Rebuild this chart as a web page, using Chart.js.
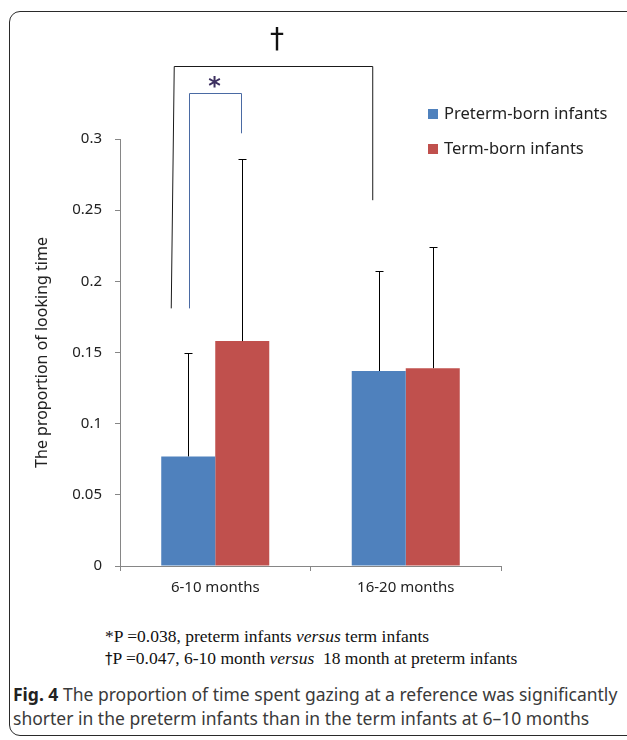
<!DOCTYPE html>
<html lang="en">
<head>
<meta charset="UTF-8">
<title>Fig. 4</title>
<style>
  body { margin: 0; background: #fff; width: 627px; height: 740px; overflow: hidden; position: relative; font-family: "Noto Sans", sans-serif; }
  #frame { position: absolute; left: 9px; top: 11px; width: 650px; height: 725px; border: 1.5px solid #2a2a2a; border-radius: 11px; box-sizing: border-box; }
  #chartBox { position: absolute; left: 0; top: 0; width: 627px; height: 620px; }
  .note { position: absolute; left: 105px; font-family: "Liberation Serif", serif; font-size: 17.5px; line-height: 20px; color: #111; white-space: nowrap; }
  .caption { position: absolute; left: 13px; font-size: 17.5px; line-height: 24px; color: #3a3a3a; white-space: nowrap; }
  .caption b { color: #222; }
</style>
</head>
<body>
  <div id="frame"></div>
  <div id="chartBox"><canvas id="myChart" width="627" height="620"></canvas></div>

  <div class="note" style="top:626px">*P =0.038, preterm infants <i>versus</i> term infants</div>
  <div class="note" style="top:648px"><span style="font-family:'DejaVu Sans';font-size:15px">†</span>P =0.047, 6-10 month <i>versus</i>&nbsp; 18 month at preterm infants</div>

  <div class="caption" style="top:682px"><b>Fig. 4</b> The proportion of time spent gazing at a reference was significantly</div>
  <div class="caption" style="top:706px">shorter in the preterm infants than in the term infants at 6–10 months</div>

  <script src="https://cdn.jsdelivr.net/npm/chart.js"></script>
  <script>
    // data
    const categories = ['6-10 months', '16-20 months'];
    const seriesNames = ['Preterm-born infants', 'Term-born infants'];
    const pretermMean = [0.077, 0.137];
    const termMean = [0.158, 0.139];
    const pretermSD = [0.073, 0.070];
    const termSD = [0.128, 0.085];
    const yTicks = [0, 0.05, 0.1, 0.15, 0.2, 0.25, 0.3];

    const colors = ['#4f81bd', '#c0504d'];

    // significance bracket levels (in axis units)
    const daggerTop = 0.351, daggerLeftEnd = 0.181, daggerRightEnd = 0.257;
    const starTop = 0.332, starLeftEnd = 0.181, starRightEnd = 0.304;

    const overlay = {
      id: 'overlay',
      afterDatasetsDraw(chart) {
        const ctx = chart.ctx;
        const y = chart.scales.y;
        const metas = [chart.getDatasetMeta(0), chart.getDatasetMeta(1)];
        const means = [pretermMean, termMean];
        const sds = [pretermSD, termSD];
        ctx.save();

        // error bars, upper side only
        ctx.strokeStyle = '#000';
        ctx.lineWidth = 1;
        metas.forEach((m, i) => m.data.forEach((bar, j) => {
          const top = Math.round(y.getPixelForValue(means[i][j] + sds[i][j])) + 0.5;
          const x = Math.round(bar.x) + 0.5;
          ctx.beginPath();
          ctx.moveTo(x, bar.y);
          ctx.lineTo(x, top);
          ctx.moveTo(x - 4, top);
          ctx.lineTo(x + 4, top);
          ctx.stroke();
        }));

        // dagger bracket (black)
        const dl = metas[0].data[0].x - 15;
        const dr = metas[0].data[1].x - 6;
        const dTop = Math.round(y.getPixelForValue(daggerTop)) + 0.5;
        ctx.strokeStyle = '#1a1a1a';
        ctx.beginPath();
        ctx.moveTo(dl - 2, y.getPixelForValue(daggerLeftEnd));
        ctx.lineTo(dl + 1, dTop);
        ctx.lineTo(dr, dTop);
        ctx.lineTo(dr, y.getPixelForValue(daggerRightEnd));
        ctx.stroke();

        // star bracket (blue)
        const sl = Math.round(metas[0].data[0].x + 1) + 0.5;
        const sr = Math.round(metas[1].data[0].x - 1) + 0.5;
        const sTop = Math.round(y.getPixelForValue(starTop)) + 0.5;
        ctx.strokeStyle = '#4a6aa3';
        ctx.beginPath();
        ctx.moveTo(sl, y.getPixelForValue(starLeftEnd));
        ctx.lineTo(sl, sTop);
        ctx.lineTo(sr, sTop);
        ctx.lineTo(sr, y.getPixelForValue(starRightEnd));
        ctx.stroke();

        // symbols
        ctx.textAlign = 'center';
        ctx.textBaseline = 'middle';
        ctx.fillStyle = '#111';
        ctx.font = '28px "DejaVu Sans"';
        ctx.fillText('†', (dl + dr) / 2 + 4, dTop - 26);
        ctx.fillStyle = '#3d3060';
        ctx.font = 'bold 24px "DejaVu Sans"';
        ctx.fillText('*', (sl + sr) / 2 - 1, sTop - 6);

        // legend
        ctx.textAlign = 'left';
        ctx.font = '16.5px "Noto Sans"';
        seriesNames.forEach((name, i) => {
          const cy = 114 + i * 35;
          ctx.fillStyle = colors[i];
          ctx.fillRect(428, cy - 5, 10, 10);
          ctx.fillStyle = '#222';
          ctx.fillText(name, 444, cy);
        });

        // y axis title
        ctx.translate(42, (chart.chartArea.top + chart.chartArea.bottom) / 2);
        ctx.rotate(-Math.PI / 2);
        ctx.textAlign = 'center';
        ctx.font = '16px "Noto Sans"';
        ctx.fillStyle = '#222';
        ctx.fillText('The proportion of looking time', 0, 0);
        ctx.restore();
      }
    };

    Chart.defaults.font.family = '"Noto Sans", sans-serif';
    Chart.defaults.color = '#222';

    new Chart(document.getElementById('myChart'), {
      type: 'bar',
      data: {
        labels: categories,
        datasets: [
          { label: seriesNames[0], data: pretermMean, backgroundColor: colors[0] },
          { label: seriesNames[1], data: termMean, backgroundColor: colors[1] }
        ]
      },
      options: {
        responsive: false,
        animation: false,
        devicePixelRatio: 1,
        categoryPercentage: 0.567,
        barPercentage: 1.0,
        layout: { padding: { top: 139, right: 126, left: 0, bottom: 0 } },
        plugins: { legend: { display: false }, tooltip: { enabled: false } },
        scales: {
          x: {
            grid: { drawOnChartArea: false, drawTicks: true, tickLength: 5, color: '#868686', offset: true },
            border: { color: '#868686', width: 1 },
            ticks: { font: { size: 15 }, padding: 8, color: '#222' },
            afterFit: (s) => { s.height = 54; }
          },
          y: {
            min: 0,
            max: 0.3,
            afterBuildTicks: (s) => { s.ticks = yTicks.map(v => ({ value: v })); },
            grid: { drawOnChartArea: false, drawTicks: true, tickLength: 5, color: '#868686' },
            border: { color: '#868686', width: 1 },
            ticks: { font: { size: 15 }, padding: 13, color: '#222', callback: (v) => String(v) },
            afterFit: (s) => { s.width = 120; }
          }
        }
      },
      plugins: [overlay]
    });
  </script>
</body>
</html>
